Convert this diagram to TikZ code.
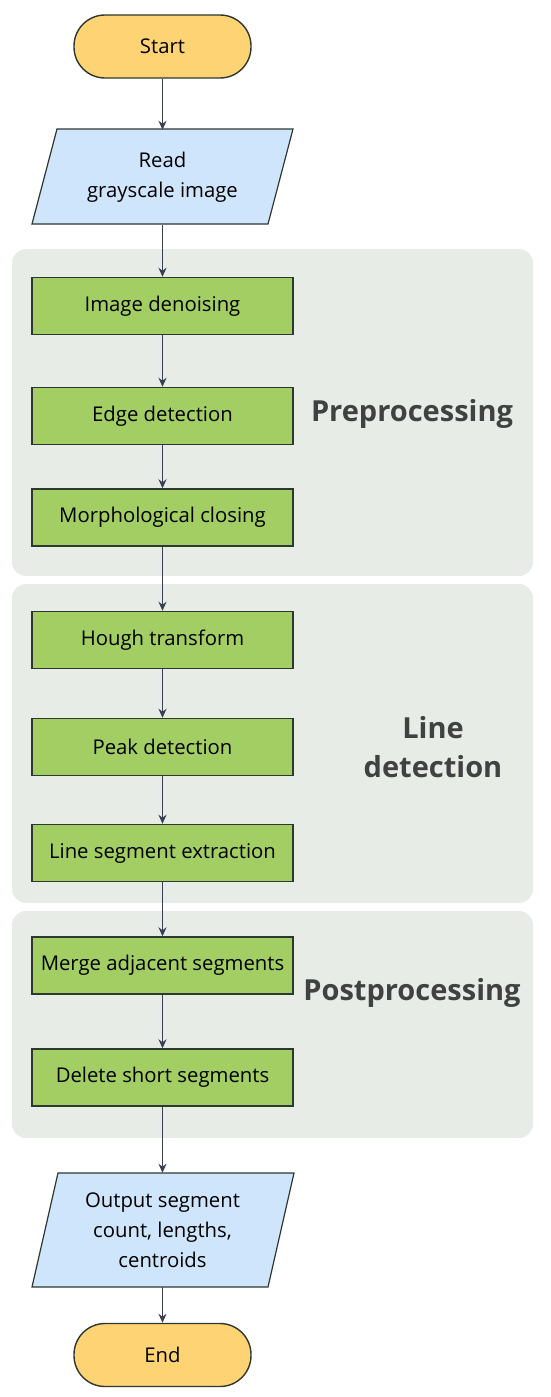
\documentclass[tikz,border=0pt]{standalone}
\usepackage{fontspec}
\setmainfont{Open Sans}
\usetikzlibrary{arrows.meta}
\definecolor{termfill}{HTML}{FDD374}
\definecolor{iofill}{HTML}{CFE5FB}
\definecolor{procfill}{HTML}{A2CE63}
\definecolor{groupfill}{HTML}{E7ECE7}
\definecolor{edgecol}{HTML}{3A4150}
\definecolor{labcol}{HTML}{404242}
\definecolor{strokecol}{HTML}{2E3830}
\tikzset{
  base/.style={font=\fontsize{20.3}{30}\selectfont, text=black, align=center, inner sep=0pt},
  term/.style={base, draw=strokecol, line width=1.4pt, fill=termfill, minimum width=177pt, minimum height=63pt, rounded corners=31pt},
  proc/.style={base, draw=strokecol, line width=1.4pt, fill=procfill, minimum width=261pt, minimum height=57pt},
  iobox/.style={base, minimum width=236pt},
  iopoly/.style={draw=strokecol, line width=1.2pt, fill=iofill},
  group/.style={fill=groupfill, rounded corners=14pt},
  grouplab/.style={font=\bfseries\fontsize{29}{39}\selectfont, text=labcol, align=center, inner sep=0pt},
  flow/.style={draw=edgecol, line width=1.5pt, -{Stealth[length=9pt,width=8pt]}}
}
\begin{document}
\begin{tikzpicture}[x=1pt,y=-1pt]
\useasboundingbox (0,0) rectangle (550,1397);
% groups
\fill[group] (12,249) rectangle (533,576);
\fill[group] (12,584) rectangle (533,903);
\fill[group] (12,911) rectangle (533,1138);
\node[grouplab] (glpre) at (412,414) {Preprocessing};
\node[grouplab] (glline) at (433,747) {Line\\detection};
\node[grouplab] (glpost) at (412,993) {Postprocessing};
% io polygons
\draw[iopoly] (57,129) -- (293,129) -- (268,224) -- (32,224) -- cycle;
\draw[iopoly] (58,1173) -- (294,1173) -- (268,1287) -- (32,1287) -- cycle;
% nodes
\node[term] (start) at (162.5,46.5) {Start};
\node[iobox, minimum height=95pt] (read) at (162.5,177.5) {Read\\grayscale image};
\node[proc] (denoise) at (162.5,306) {Image denoising};
\node[proc] (edge) at (162.5,416) {Edge detection};
\node[proc] (morph) at (162.5,517.5) {Morphological closing};
\node[proc] (hough) at (162.5,640) {Hough transform};
\node[proc] (peak) at (162.5,747) {Peak detection};
\node[proc] (extract) at (162.5,853) {Line segment extraction};
\node[proc] (merge) at (162.5,965.5) {Merge adjacent segments};
\node[proc] (delete) at (162.5,1077.5) {Delete short segments};
\node[iobox, minimum height=114pt] (output) at (162.5,1230) {Output segment\\count, lengths,\\centroids};
\node[term] (end) at (162.5,1355) {End};
% connectors
\draw[flow] (start.south) -- (read.north);
\draw[flow] (read.south) -- (denoise.north);
\draw[flow] (denoise) -- (edge);
\draw[flow] (edge) -- (morph);
\draw[flow] (morph) -- (hough);
\draw[flow] (hough) -- (peak);
\draw[flow] (peak) -- (extract);
\draw[flow] (extract) -- (merge);
\draw[flow] (merge) -- (delete);
\draw[flow] (delete.south) -- (output.north);
\draw[flow] (output.south) -- (end.north);
\end{tikzpicture}
\end{document}
